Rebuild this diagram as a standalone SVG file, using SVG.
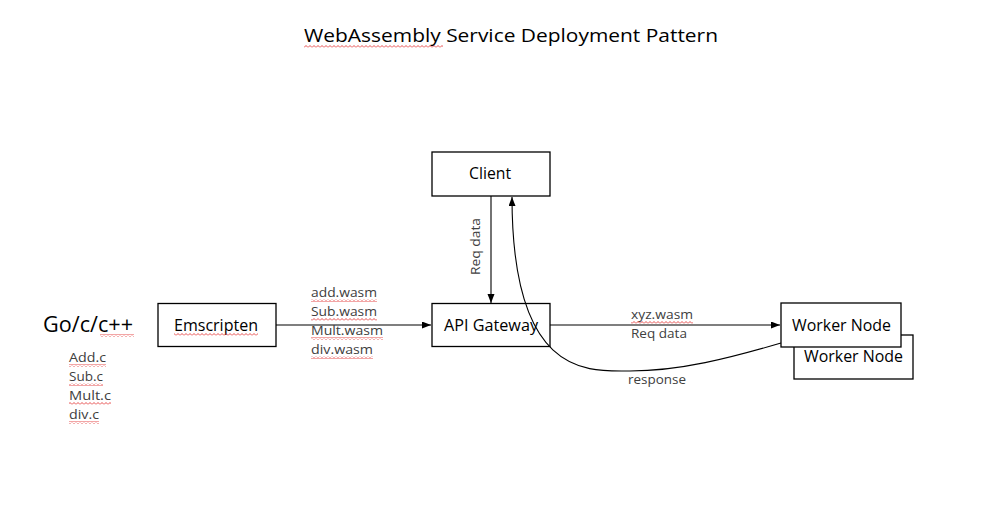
<svg xmlns="http://www.w3.org/2000/svg" width="991" height="517" viewBox="0 0 991 517">
<defs>
<style>
.box{fill:#fff;stroke:#000;stroke-width:1.3}
.nt{font-family:"Open Sans","Liberation Sans",sans-serif;font-size:16px;fill:#000}
.lb{font-family:"Open Sans","Liberation Sans",sans-serif;font-size:13px;fill:#404040}
.cn{fill:none;stroke:#000;stroke-width:1.1}
</style>
<marker id="ah" markerUnits="userSpaceOnUse" markerWidth="10" markerHeight="8" refX="9" refY="3.5" orient="auto">
<path d="M0,0 L9,3.5 L0,7 z" fill="#000"/>
</marker>
<pattern id="sq" patternUnits="userSpaceOnUse" width="4" height="3">
<polyline points="0,2.5 2,0.5 4,2.5" fill="none" stroke="#e02020" stroke-width="0.8"/>
</pattern>
</defs>
<rect width="991" height="517" fill="#fff"/>

<g id="title">
<text x="304" y="42" font-family="Open Sans, Liberation Sans, sans-serif" font-size="19" textLength="414" lengthAdjust="spacingAndGlyphs">WebAssembly Service Deployment Pattern</text>
<rect x="304" y="45" width="139" height="3" fill="url(#sq)"/>
</g>

<g id="sources">
<text x="43" y="332" font-family="Open Sans, Liberation Sans, sans-serif" font-size="21" textLength="90" lengthAdjust="spacingAndGlyphs">Go/c/c++</text>
<rect x="100" y="334" width="34" height="3" fill="url(#sq)"/>
<text class="lb" x="69" y="362" textLength="37" lengthAdjust="spacingAndGlyphs">Add.c</text>
<text class="lb" x="69" y="381" textLength="34" lengthAdjust="spacingAndGlyphs">Sub.c</text>
<text class="lb" x="69" y="400" textLength="42" lengthAdjust="spacingAndGlyphs">Mult.c</text>
<text class="lb" x="69" y="419" textLength="30" lengthAdjust="spacingAndGlyphs">div.c</text>
<rect x="69" y="364" width="37" height="3" fill="url(#sq)"/>
<rect x="69" y="383" width="34" height="3" fill="url(#sq)"/>
<rect x="69" y="402" width="42" height="3" fill="url(#sq)"/>
<rect x="69" y="421" width="30" height="3" fill="url(#sq)"/>
</g>

<g id="connectors">
<line class="cn" x1="276" y1="325" x2="431" y2="325" marker-end="url(#ah)"/>
<line class="cn" x1="550" y1="325" x2="780" y2="325" marker-end="url(#ah)"/>
<line class="cn" x1="491" y1="196" x2="491" y2="303" marker-end="url(#ah)"/>
<path class="cn" d="M781,343 C730,358 680,371 630,371 C590,371 512,380 512,197" marker-end="url(#ah)"/>
<text class="lb" x="311" y="297" textLength="66" lengthAdjust="spacingAndGlyphs">add.wasm</text>
<text class="lb" x="311" y="316" textLength="66" lengthAdjust="spacingAndGlyphs">Sub.wasm</text>
<text class="lb" x="311" y="335" textLength="72" lengthAdjust="spacingAndGlyphs">Mult.wasm</text>
<text class="lb" x="311" y="354" textLength="62" lengthAdjust="spacingAndGlyphs">div.wasm</text>
<rect x="311" y="299" width="66" height="3" fill="url(#sq)"/>
<rect x="311" y="318" width="66" height="3" fill="url(#sq)"/>
<rect x="311" y="337" width="72" height="3" fill="url(#sq)"/>
<rect x="311" y="356" width="62" height="3" fill="url(#sq)"/>
<text class="lb" transform="translate(480,246.5) rotate(-90)" x="0" y="0" text-anchor="middle" textLength="57" lengthAdjust="spacingAndGlyphs">Req data</text>
<text class="lb" x="631" y="319" textLength="62" lengthAdjust="spacingAndGlyphs">xyz.wasm</text>
<rect x="631" y="321" width="62" height="3" fill="url(#sq)"/>
<text class="lb" x="631" y="338" textLength="56" lengthAdjust="spacingAndGlyphs">Req data</text>
<text class="lb" x="628" y="384" textLength="58" lengthAdjust="spacingAndGlyphs">response</text>
</g>

<g id="emscripten">
<rect class="box" x="158" y="303.5" width="118" height="43"/>
<text class="nt" x="174" y="331" textLength="84" lengthAdjust="spacingAndGlyphs">Emscripten</text>
<rect x="174" y="333" width="84" height="3" fill="url(#sq)"/>
</g>

<g id="client">
<rect class="box" x="432" y="152" width="118" height="44"/>
<text class="nt" x="469" y="179" textLength="42" lengthAdjust="spacingAndGlyphs">Client</text>
</g>

<g id="api-gateway">
<rect class="box" x="432" y="303.5" width="118" height="43" fill-opacity="0"/>
<text class="nt" x="444" y="331" textLength="94" lengthAdjust="spacingAndGlyphs">API Gateway</text>
</g>

<g id="worker-node-2">
<rect class="box" x="794" y="335" width="119" height="44"/>
<text class="nt" x="804" y="362" textLength="99" lengthAdjust="spacingAndGlyphs">Worker Node</text>
</g>

<g id="worker-node-1">
<rect class="box" x="781" y="303" width="120" height="44"/>
<text class="nt" x="792" y="331" textLength="99" lengthAdjust="spacingAndGlyphs">Worker Node</text>
</g>
</svg>
